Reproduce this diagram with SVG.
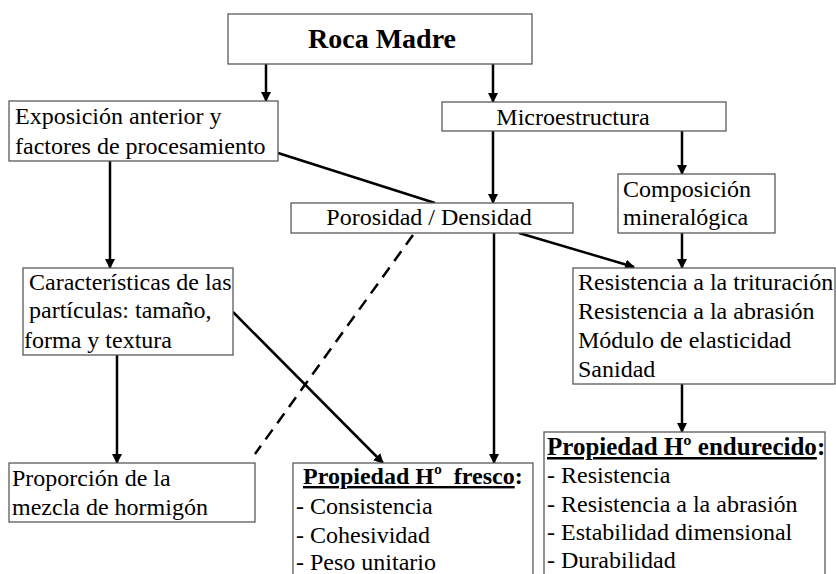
<svg xmlns="http://www.w3.org/2000/svg" width="836" height="574" viewBox="0 0 836 574">
<style>
.box{fill:#fff;stroke:#5a5a5a;stroke-width:1.3}
.t{font-family:"Liberation Serif","Times New Roman",serif;font-size:24px;fill:#000}
.b{font-weight:bold}
.h{font-size:25px}
.c{stroke:#000;stroke-width:2.5;fill:none}
.a{marker-end:url(#arr)}
.d{stroke-dasharray:12 8}
</style>
<defs>
<marker id="arr" viewBox="0 0 10 10" refX="9" refY="5" markerWidth="4" markerHeight="4" orient="auto" markerUnits="strokeWidth">
<path d="M0,0 L10,5 L0,10 z" fill="#000"/>
</marker>
</defs>
<rect width="836" height="574" fill="#fff"/>
<g id="connectors">
<line class="c a" x1="266" y1="64" x2="266" y2="101"/>
<line class="c a" x1="493" y1="64" x2="493" y2="102"/>
<line class="c a" x1="682" y1="131" x2="682" y2="174"/>
<line class="c a" x1="493" y1="131" x2="493" y2="203"/>
<line class="c" x1="278" y1="153" x2="435" y2="203"/>
<line class="c a" x1="110" y1="161" x2="110" y2="268"/>
<line class="c a" x1="519" y1="233" x2="634" y2="267"/>
<line class="c a" x1="682" y1="233" x2="682" y2="268"/>
<line class="c a" x1="117" y1="355" x2="117" y2="463"/>
<line class="c a" x1="233" y1="312" x2="383" y2="463"/>
<line class="c a" x1="494" y1="233" x2="494" y2="463"/>
<line class="c a" x1="682" y1="384" x2="682" y2="432"/>
<line class="c d" x1="413" y1="235" x2="255" y2="454"/>
</g>
<g id="roca">
<rect class="box" x="228" y="14" width="304" height="50"/>
<text class="t b" x="382" y="48" text-anchor="middle" style="font-size:28px">Roca Madre</text>
</g>
<g id="exposicion">
<rect class="box" x="9" y="101" width="269" height="60"/>
<text class="t" x="15" y="124">Exposición anterior y</text>
<text class="t" x="15" y="154">factores de procesamiento</text>
</g>
<g id="micro">
<rect class="box" x="442" y="102" width="284" height="29"/>
<text class="t" x="573" y="125" text-anchor="middle">Microestructura</text>
</g>
<g id="composicion">
<rect class="box" x="618" y="174" width="157" height="59"/>
<text class="t" x="623" y="197">Composición</text>
<text class="t" x="623" y="225">mineralógica</text>
</g>
<g id="porosidad">
<rect class="box" x="291" y="203" width="282" height="30"/>
<text class="t" x="429" y="225" text-anchor="middle">Porosidad / Densidad</text>
</g>
<g id="resistencia">
<rect class="box" x="573" y="268" width="262" height="116"/>
<text class="t" x="578" y="290">Resistencia a la trituración</text>
<text class="t" x="578" y="319">Resistencia a la abrasión</text>
<text class="t" x="578" y="348">Módulo de elasticidad</text>
<text class="t" x="578" y="377">Sanidad</text>
</g>
<g id="caracteristicas">
<rect class="box" x="23" y="268" width="210" height="87"/>
<text class="t" x="29" y="290">Características de las</text>
<text class="t" x="29" y="318">partículas: tamaño,</text>
<text class="t" x="24" y="348">forma y textura</text>
</g>
<g id="proporcion">
<rect class="box" x="9" y="463" width="246" height="59"/>
<text class="t" x="12" y="486">Proporción de la</text>
<text class="t" x="12" y="515">mezcla de hormigón</text>
</g>
<g id="fresco">
<rect class="box" x="293" y="463" width="240" height="120"/>
<text class="t b" x="303" y="484" style="white-space:pre"><tspan text-decoration="underline">Propiedad Hº  fresco</tspan>:</text>
<text class="t" x="296" y="514">- Consistencia</text>
<text class="t" x="296" y="543">- Cohesividad</text>
<text class="t" x="296" y="570">- Peso unitario</text>
</g>
<g id="endurecido">
<rect class="box" x="544" y="432" width="281" height="150"/>
<text class="t b h" x="547" y="455"><tspan text-decoration="underline">Propiedad Hº endurecido</tspan>:</text>
<text class="t" x="547" y="483">- Resistencia</text>
<text class="t" x="547" y="512">- Resistencia a la abrasión</text>
<text class="t" x="547" y="540">- Estabilidad dimensional</text>
<text class="t" x="547" y="568">- Durabilidad</text>
</g>
</svg>
